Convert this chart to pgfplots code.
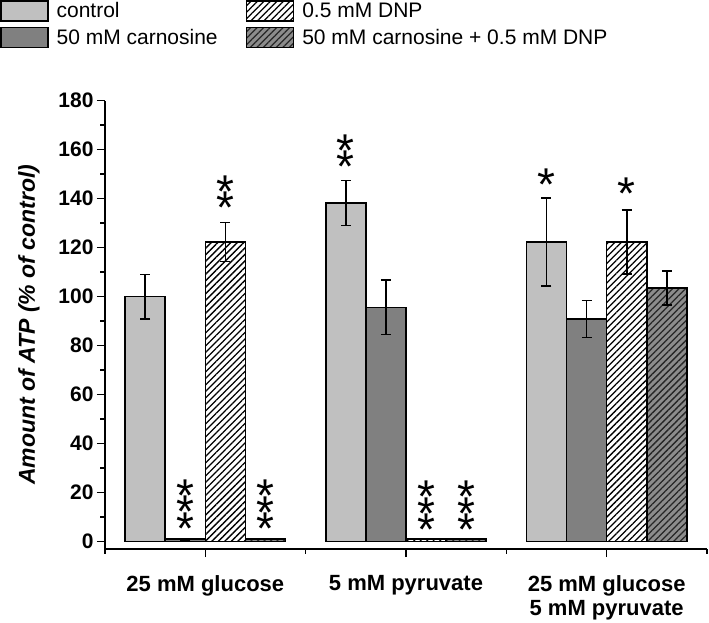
\documentclass[border=0pt]{standalone}
\usepackage{fontspec}
\setmainfont{Liberation Sans}
\usepackage{pgfplots}
\pgfplotsset{compat=1.18}
\usetikzlibrary{patterns.meta}
\definecolor{cctrl}{RGB}{192,192,192}
\definecolor{ccarn}{RGB}{128,128,128}
\definecolor{cboth}{RGB}{140,140,140}
\tikzset{star/.style={font=\fontsize{46bp}{46bp}\selectfont, anchor=base, yshift=-26bp, inner sep=0pt}}
\newcommand{\sone}{\makebox[0pt]{*}}
\newcommand{\stwo}{\makebox[0pt]{*}\makebox[0pt]{\raisebox{16bp}{*}}}
\newcommand{\sthree}{\makebox[0pt]{*}\makebox[0pt]{\raisebox{16.4bp}{*}}\makebox[0pt]{\raisebox{32.8bp}{*}}}
\newcommand{\st}[3]{\node[star] at (axis cs:#1,#2) {#3};}
\begin{document}
\begin{tikzpicture}
\begin{axis}[
  name=ax,
  scale only axis, width=602bp, height=448.3bp,
  xmin=0.5, xmax=3.5, ymin=-3, ymax=180,
  axis lines=left, axis line style={-, line width=1.6bp},
  tick align=outside,
  major tick length=8bp, minor tick length=4.5bp,
  every tick/.style={black, line width=1.6bp},
  xtick={1,2,3}, minor xtick={0.5,1.5,2.5,3.5},
  xticklabels={25 mM glucose, 5 mM pyruvate, {25 mM glucose\\5 mM pyruvate}},
  xticklabel style={align=center, font=\bfseries\fontsize{22bp}{24bp}\selectfont, yshift=-15bp},
  ytick={0,20,...,180}, minor ytick={10,30,...,170},
  yticklabel style={font=\bfseries\fontsize{21bp}{21bp}\selectfont},
  /pgf/number format/assume math mode=true,
  ylabel={\bfseries\itshape Amount of ATP (\% of control)},
  ylabel style={font=\fontsize{23bp}{23bp}\selectfont, at={(axis description cs:-0.1163,0.5)}, anchor=base, rotate=0},
  ybar=0pt, bar width=0.2,
  error bars/y dir=both, error bars/y explicit,
  error bars/error bar style={line width=1.6bp, black},
  error bars/error mark options={rotate=90, mark size=5bp, line width=1.6bp, black},
  legend columns=2, transpose legend,
  legend style={at={(axis description cs:-0.1744,1.2248)}, anchor=north west, draw=none, fill=none,
    inner sep=0pt, outer sep=0pt,
    font=\fontsize{21bp}{21bp}\selectfont,
    nodes={inner sep=1bp, anchor=west},
    /tikz/every odd column/.append style={column sep=7bp},
    /tikz/every even column/.append style={column sep=27bp},
    row sep=5bp},
  legend image code/.code={\draw[#1, line width=1.6bp] (0bp,-10bp) rectangle (47bp,10bp);},
]
\addplot[draw=black, line width=1.6bp, fill=cctrl] coordinates {
  (1,100) +- (0,9)
  (2,138.2) +- (0,9.2)
  (3,122.3) +- (0,18)
};
\addlegendentry{control}
\addplot[draw=black, line width=1.6bp, fill=ccarn] coordinates {
  (1,1) +- (0,0.3)
  (2,95.6) +- (0,11.1)
  (3,90.9) +- (0,7.6)
};
\addlegendentry{50 mM carnosine}
\addplot[draw=black, line width=1.6bp, fill=white, postaction={pattern={Lines[angle=45,distance=4.6bp,line width=1.3bp]}, pattern color=black}] coordinates {
  (1,122.3) +- (0,8)
  (2,1) +- (0,0)
  (3,122.3) +- (0,13)
};
\addlegendentry{0.5 mM DNP}
\addplot[draw=black, line width=1.6bp, fill=cboth, postaction={pattern={Lines[angle=45,distance=4.6bp,line width=1.3bp]}, pattern color=black!85}] coordinates {
  (1,1) +- (0,0)
  (2,1) +- (0,0)
  (3,103.5) +- (0,7)
};
\addlegendentry{50 mM carnosine + 0.5 mM DNP}
% significance stars
\st{0.9}{9.6}{\sthree}
\st{1.3}{9.4}{\sthree}
\st{1.1}{140.6}{\stwo}
\st{1.7}{157.1}{\stwo}
\st{2.1}{9.0}{\sthree}
\st{2.3}{9.0}{\sthree}
\st{2.7}{149.8}{\sone}
\st{3.1}{146.1}{\sone}
\end{axis}
\pgfresetboundingbox
\path[use as bounding box] ([shift={(-105bp,-74bp)}]ax.south west) rectangle ([shift={(2bp,100.7bp)}]ax.north east);
\end{tikzpicture}
\end{document}
